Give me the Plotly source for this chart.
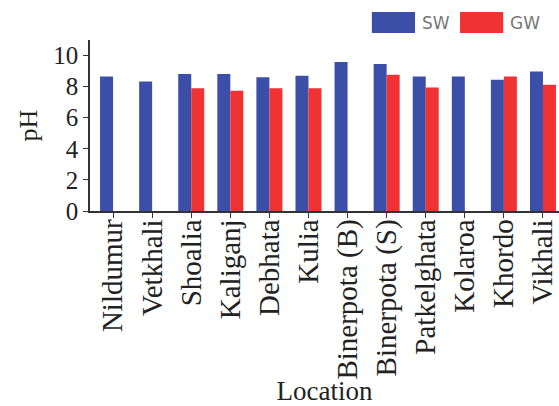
import plotly.graph_objects as go

locations = ["Nildumur", "Vetkhali", "Shoalia", "Kaliganj", "Debhata", "Kulia",
             "Binerpota (B)", "Binerpota (S)", "Patkelghata", "Kolaroa", "Khordo", "Vikhali"]
sw_ph = [8.65, 8.33, 8.82, 8.82, 8.6, 8.7, 9.58, 9.45, 8.66, 8.66, 8.45, 8.98]
gw_ph = [None, None, 7.9, 7.74, 7.9, 7.9, None, 8.76, 7.95, None, 8.66, 8.12]
series_names = ["SW", "GW"]
series_colors = ["#3b4ea8", "#f03232"]
y_ticks = [0, 2, 4, 6, 8, 10]

fig = go.Figure()
for name, vals, col in zip(series_names, [sw_ph, gw_ph], series_colors):
    fig.add_trace(go.Bar(x=locations, y=vals, name=name, marker=dict(color=col, line=dict(width=0)),
                         showlegend=False))

# manual legend (large swatches like the reference)
legend_x = [0.601, 0.789]
shapes = []
annotations = []
for i, (name, col) in enumerate(zip(series_names, series_colors)):
    x0 = legend_x[i]
    shapes.append(dict(type="rect", xref="paper", yref="paper", x0=x0, x1=x0 + 0.092,
                       y0=1.041, y1=1.164, fillcolor=col, line=dict(width=0)))
    annotations.append(dict(xref="paper", yref="paper", x=x0 + 0.102, y=1.102, text=name,
                            showarrow=False, xanchor="left", yanchor="middle",
                            font=dict(family="DejaVu Sans", size=17, color="#777777")))

fig.update_layout(
    width=559, height=406,
    margin=dict(l=90, r=0, t=40, b=195),
    plot_bgcolor="white", paper_bgcolor="white",
    barmode="group", bargap=0.335, bargroupgap=0,
    shapes=shapes, annotations=annotations,
    font=dict(family="Liberation Serif", color="#222222"),
)
fig.update_xaxes(
    type="category", range=[-0.59, 11.41],
    showline=True, linecolor="#333333", linewidth=1.5,
    ticks="outside", ticklen=5, tickcolor="#333333",
    tickangle=-90, tickfont=dict(family="Liberation Serif", size=29, color="#222222"),
    ticklabelstandoff=-10,
    title=dict(text="Location", font=dict(family="Liberation Serif", size=27, color="#222222"), standoff=0),
    showgrid=False, automargin=False,
)
fig.update_yaxes(
    range=[0, 11], tickvals=y_ticks,
    showline=True, linecolor="#333333", linewidth=1.5,
    ticks="outside", ticklen=5, tickcolor="#333333",
    tickfont=dict(family="Liberation Serif", size=25, color="#222222"),
    title=dict(text="pH", font=dict(family="Liberation Serif", size=26, color="#222222"), standoff=8),
    showgrid=False, zeroline=False, automargin=False,
)

fig.write_html("out.html", config={"displayModeBar": False})
with open("out.html", "r", encoding="utf-8") as f:
    html = f.read()
html = html.replace("<head>", "<head><style>html,body{margin:0;padding:0;overflow:hidden;}</style>", 1)
with open("out.html", "w", encoding="utf-8") as f:
    f.write(html)
